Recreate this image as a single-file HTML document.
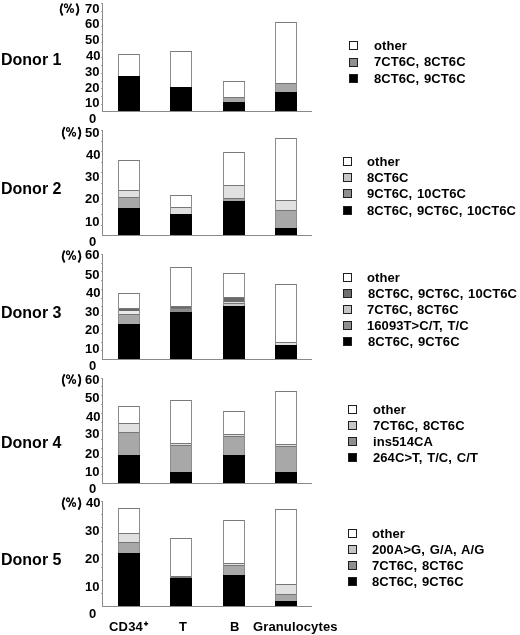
<!DOCTYPE html>
<html><head><meta charset="utf-8"><style>
html,body{margin:0;padding:0;background:#fff;}
body{width:520px;height:635px;position:relative;overflow:hidden;font-family:"Liberation Sans", sans-serif;font-weight:bold;color:#000;}
.t{position:absolute;white-space:nowrap;will-change:transform;}
.ax{position:absolute;background:#8a8a8a;}
.tk{position:absolute;width:1px;height:1px;background:#a8a8a8;}
.bar{position:absolute;box-sizing:border-box;border:1px solid #8c8c8c;border-top-color:#7a7a7a;background:#fff;}
.sc{position:absolute;box-sizing:border-box;border-top:1px solid #767676;}
.sb{position:absolute;background:#000;}
.lb{position:absolute;box-sizing:border-box;width:9px;height:9px;border:1px solid #1e1e1e;}
</style></head><body>
<div class="ax" style="left:102px;top:3px;width:1px;height:109px"></div>
<div class="ax" style="left:102px;top:111px;width:210px;height:1px"></div>
<div class="tk" style="left:101px;top:104px"></div>
<div class="tk" style="left:101px;top:96px"></div>
<div class="tk" style="left:101px;top:88px"></div>
<div class="tk" style="left:101px;top:81px"></div>
<div class="tk" style="left:101px;top:73px"></div>
<div class="tk" style="left:101px;top:65px"></div>
<div class="tk" style="left:101px;top:57px"></div>
<div class="tk" style="left:101px;top:50px"></div>
<div class="tk" style="left:101px;top:42px"></div>
<div class="tk" style="left:101px;top:34px"></div>
<div class="tk" style="left:101px;top:26px"></div>
<div class="tk" style="left:101px;top:19px"></div>
<div class="tk" style="left:101px;top:11px"></div>
<div class="tk" style="left:101px;top:3px"></div>
<div class="bar" style="left:118px;top:54px;width:22px;height:57px"></div>
<div class="sb" style="left:118px;top:76px;width:22px;height:35px"></div>
<div class="bar" style="left:170px;top:51px;width:22px;height:60px"></div>
<div class="sb" style="left:170px;top:87px;width:22px;height:24px"></div>
<div class="bar" style="left:223px;top:81px;width:22px;height:30px"></div>
<div class="sc" style="left:224px;top:97px;width:20px;height:5px;background:#a8a8a8"></div>
<div class="sb" style="left:223px;top:102px;width:22px;height:9px"></div>
<div class="bar" style="left:275px;top:22px;width:22px;height:89px"></div>
<div class="sc" style="left:276px;top:83px;width:20px;height:9px;background:#a8a8a8"></div>
<div class="sb" style="left:275px;top:92px;width:22px;height:19px"></div>
<div class="t" style="left:85px;top:2px;font-size:13px;line-height:13px;">70</div>
<div class="t" style="left:85px;top:17px;font-size:13px;line-height:13px;">60</div>
<div class="t" style="left:85px;top:33px;font-size:13px;line-height:13px;">50</div>
<div class="t" style="left:86px;top:49px;font-size:13px;line-height:13px;">40</div>
<div class="t" style="left:85px;top:65px;font-size:13px;line-height:13px;">30</div>
<div class="t" style="left:85px;top:81px;font-size:13px;line-height:13px;">20</div>
<div class="t" style="left:85px;top:96px;font-size:13px;line-height:13px;">10</div>
<div class="t" style="left:89px;top:112px;font-size:13px;line-height:13px;">0</div>
<div class="t" style="left:1px;top:52px;font-size:16px;line-height:16px;">Donor 1</div>
<div class="lb" style="left:349px;top:41px;background:#fff"></div>
<div class="t" style="left:374px;top:39px;font-size:13px;line-height:13px;word-spacing:1.1px;letter-spacing:0.08px;">other</div>
<div class="lb" style="left:349px;top:58px;background:#8f8f8f"></div>
<div class="t" style="left:374px;top:55px;font-size:13px;line-height:13px;word-spacing:1.1px;letter-spacing:0.08px;">7CT6C, 8CT6C</div>
<div class="lb" style="left:349px;top:74px;background:#000"></div>
<div class="t" style="left:374px;top:72px;font-size:13px;line-height:13px;word-spacing:1.1px;letter-spacing:0.08px;">8CT6C, 9CT6C</div>
<div class="ax" style="left:102px;top:130px;width:1px;height:106px"></div>
<div class="ax" style="left:102px;top:235px;width:210px;height:1px"></div>
<div class="tk" style="left:101px;top:225px"></div>
<div class="tk" style="left:101px;top:214px"></div>
<div class="tk" style="left:101px;top:204px"></div>
<div class="tk" style="left:101px;top:193px"></div>
<div class="tk" style="left:101px;top:183px"></div>
<div class="tk" style="left:101px;top:172px"></div>
<div class="tk" style="left:101px;top:162px"></div>
<div class="tk" style="left:101px;top:151px"></div>
<div class="tk" style="left:101px;top:141px"></div>
<div class="tk" style="left:101px;top:130px"></div>
<div class="bar" style="left:118px;top:160px;width:22px;height:75px"></div>
<div class="sc" style="left:119px;top:190px;width:20px;height:7px;background:#e0e0e0"></div>
<div class="sc" style="left:119px;top:197px;width:20px;height:11px;background:#a8a8a8"></div>
<div class="sb" style="left:118px;top:208px;width:22px;height:27px"></div>
<div class="bar" style="left:170px;top:195px;width:22px;height:40px"></div>
<div class="sc" style="left:171px;top:207px;width:20px;height:7px;background:#e0e0e0"></div>
<div class="sb" style="left:170px;top:214px;width:22px;height:21px"></div>
<div class="bar" style="left:223px;top:152px;width:22px;height:83px"></div>
<div class="sc" style="left:224px;top:185px;width:20px;height:13px;background:#e0e0e0"></div>
<div class="sc" style="left:224px;top:198px;width:20px;height:3px;background:#a8a8a8"></div>
<div class="sb" style="left:223px;top:201px;width:22px;height:34px"></div>
<div class="bar" style="left:275px;top:138px;width:22px;height:97px"></div>
<div class="sc" style="left:276px;top:200px;width:20px;height:10px;background:#e0e0e0"></div>
<div class="sc" style="left:276px;top:210px;width:20px;height:18px;background:#a8a8a8"></div>
<div class="sb" style="left:275px;top:228px;width:22px;height:7px"></div>
<div class="t" style="left:85px;top:126px;font-size:13px;line-height:13px;">50</div>
<div class="t" style="left:86px;top:148px;font-size:13px;line-height:13px;">40</div>
<div class="t" style="left:85px;top:170px;font-size:13px;line-height:13px;">30</div>
<div class="t" style="left:85px;top:192px;font-size:13px;line-height:13px;">20</div>
<div class="t" style="left:85px;top:215px;font-size:13px;line-height:13px;">10</div>
<div class="t" style="left:89px;top:235px;font-size:13px;line-height:13px;">0</div>
<div class="t" style="left:1px;top:181px;font-size:16px;line-height:16px;">Donor 2</div>
<div class="lb" style="left:343px;top:157px;background:#fff"></div>
<div class="t" style="left:367px;top:155px;font-size:13px;line-height:13px;word-spacing:1.1px;letter-spacing:0.08px;">other</div>
<div class="lb" style="left:343px;top:173px;background:#c6c6c6"></div>
<div class="t" style="left:367px;top:171px;font-size:13px;line-height:13px;word-spacing:1.1px;letter-spacing:0.08px;">8CT6C</div>
<div class="lb" style="left:343px;top:189px;background:#8f8f8f"></div>
<div class="t" style="left:367px;top:187px;font-size:13px;line-height:13px;word-spacing:1.1px;letter-spacing:0.08px;">9CT6C, 10CT6C</div>
<div class="lb" style="left:343px;top:206px;background:#000"></div>
<div class="t" style="left:367px;top:204px;font-size:13px;line-height:13px;word-spacing:1.1px;letter-spacing:0.08px;">8CT6C, 9CT6C, 10CT6C</div>
<div class="ax" style="left:102px;top:254px;width:1px;height:106px"></div>
<div class="ax" style="left:102px;top:359px;width:210px;height:1px"></div>
<div class="tk" style="left:101px;top:350px"></div>
<div class="tk" style="left:101px;top:342px"></div>
<div class="tk" style="left:101px;top:333px"></div>
<div class="tk" style="left:101px;top:324px"></div>
<div class="tk" style="left:101px;top:315px"></div>
<div class="tk" style="left:101px;top:306px"></div>
<div class="tk" style="left:101px;top:298px"></div>
<div class="tk" style="left:101px;top:289px"></div>
<div class="tk" style="left:101px;top:280px"></div>
<div class="tk" style="left:101px;top:271px"></div>
<div class="tk" style="left:101px;top:263px"></div>
<div class="tk" style="left:101px;top:254px"></div>
<div class="bar" style="left:118px;top:293px;width:22px;height:66px"></div>
<div class="sc" style="left:119px;top:308px;width:20px;height:3px;background:#6a6a6a"></div>
<div class="sc" style="left:119px;top:311px;width:20px;height:3px;background:#eaeaea;border-top:none"></div>
<div class="sc" style="left:119px;top:314px;width:20px;height:10px;background:#a8a8a8"></div>
<div class="sb" style="left:118px;top:324px;width:22px;height:35px"></div>
<div class="bar" style="left:170px;top:267px;width:22px;height:92px"></div>
<div class="sc" style="left:171px;top:306px;width:20px;height:2px;background:#6a6a6a"></div>
<div class="sc" style="left:171px;top:308px;width:20px;height:4px;background:#8c8c8c"></div>
<div class="sb" style="left:170px;top:312px;width:22px;height:47px"></div>
<div class="bar" style="left:223px;top:273px;width:22px;height:86px"></div>
<div class="sc" style="left:224px;top:297px;width:20px;height:5px;background:#6a6a6a"></div>
<div class="sc" style="left:224px;top:302px;width:20px;height:1px;background:#dddddd;border-top:none"></div>
<div class="sc" style="left:224px;top:303px;width:20px;height:3px;background:#c8c8c8"></div>
<div class="sb" style="left:223px;top:306px;width:22px;height:53px"></div>
<div class="bar" style="left:275px;top:284px;width:22px;height:75px"></div>
<div class="sc" style="left:276px;top:342px;width:20px;height:3px;background:#e0e0e0"></div>
<div class="sb" style="left:275px;top:345px;width:22px;height:14px"></div>
<div class="t" style="left:85px;top:248px;font-size:13px;line-height:13px;">60</div>
<div class="t" style="left:85px;top:268px;font-size:13px;line-height:13px;">50</div>
<div class="t" style="left:86px;top:286px;font-size:13px;line-height:13px;">40</div>
<div class="t" style="left:85px;top:305px;font-size:13px;line-height:13px;">30</div>
<div class="t" style="left:85px;top:323px;font-size:13px;line-height:13px;">20</div>
<div class="t" style="left:85px;top:342px;font-size:13px;line-height:13px;">10</div>
<div class="t" style="left:89px;top:359px;font-size:13px;line-height:13px;">0</div>
<div class="t" style="left:1px;top:305px;font-size:16px;line-height:16px;">Donor 3</div>
<div class="lb" style="left:343px;top:273px;background:#fff"></div>
<div class="t" style="left:367px;top:271px;font-size:13px;line-height:13px;word-spacing:1.1px;letter-spacing:0.08px;">other</div>
<div class="lb" style="left:343px;top:289px;background:#6e6e6e"></div>
<div class="t" style="left:368px;top:287px;font-size:13px;line-height:13px;word-spacing:1.1px;letter-spacing:0.08px;">8CT6C, 9CT6C, 10CT6C</div>
<div class="lb" style="left:343px;top:305px;background:#c6c6c6"></div>
<div class="t" style="left:367px;top:303px;font-size:13px;line-height:13px;word-spacing:1.1px;letter-spacing:0.08px;">7CT6C, 8CT6C</div>
<div class="lb" style="left:343px;top:321px;background:#8f8f8f"></div>
<div class="t" style="left:367px;top:319px;font-size:13px;line-height:13px;word-spacing:1.1px;letter-spacing:0.08px;">16093T&gt;C/T, T/C</div>
<div class="lb" style="left:343px;top:337px;background:#000"></div>
<div class="t" style="left:368px;top:335px;font-size:13px;line-height:13px;word-spacing:1.1px;letter-spacing:0.08px;">8CT6C, 9CT6C</div>
<div class="ax" style="left:102px;top:378px;width:1px;height:106px"></div>
<div class="ax" style="left:102px;top:483px;width:210px;height:1px"></div>
<div class="tk" style="left:101px;top:474px"></div>
<div class="tk" style="left:101px;top:466px"></div>
<div class="tk" style="left:101px;top:457px"></div>
<div class="tk" style="left:101px;top:448px"></div>
<div class="tk" style="left:101px;top:439px"></div>
<div class="tk" style="left:101px;top:430px"></div>
<div class="tk" style="left:101px;top:422px"></div>
<div class="tk" style="left:101px;top:413px"></div>
<div class="tk" style="left:101px;top:404px"></div>
<div class="tk" style="left:101px;top:395px"></div>
<div class="tk" style="left:101px;top:386px"></div>
<div class="tk" style="left:101px;top:378px"></div>
<div class="bar" style="left:118px;top:406px;width:22px;height:77px"></div>
<div class="sc" style="left:119px;top:423px;width:20px;height:9px;background:#e0e0e0"></div>
<div class="sc" style="left:119px;top:432px;width:20px;height:23px;background:#a8a8a8"></div>
<div class="sb" style="left:118px;top:455px;width:22px;height:28px"></div>
<div class="bar" style="left:170px;top:400px;width:22px;height:83px"></div>
<div class="sc" style="left:171px;top:443px;width:20px;height:2px;background:#e0e0e0"></div>
<div class="sc" style="left:171px;top:445px;width:20px;height:27px;background:#a8a8a8"></div>
<div class="sb" style="left:170px;top:472px;width:22px;height:11px"></div>
<div class="bar" style="left:223px;top:411px;width:22px;height:72px"></div>
<div class="sc" style="left:224px;top:434px;width:20px;height:2px;background:#e0e0e0"></div>
<div class="sc" style="left:224px;top:436px;width:20px;height:19px;background:#a8a8a8"></div>
<div class="sb" style="left:223px;top:455px;width:22px;height:28px"></div>
<div class="bar" style="left:275px;top:391px;width:22px;height:92px"></div>
<div class="sc" style="left:276px;top:444px;width:20px;height:2px;background:#e0e0e0"></div>
<div class="sc" style="left:276px;top:446px;width:20px;height:26px;background:#a8a8a8"></div>
<div class="sb" style="left:275px;top:472px;width:22px;height:11px"></div>
<div class="t" style="left:85px;top:373px;font-size:13px;line-height:13px;">60</div>
<div class="t" style="left:85px;top:391px;font-size:13px;line-height:13px;">50</div>
<div class="t" style="left:86px;top:410px;font-size:13px;line-height:13px;">40</div>
<div class="t" style="left:85px;top:427px;font-size:13px;line-height:13px;">30</div>
<div class="t" style="left:85px;top:447px;font-size:13px;line-height:13px;">20</div>
<div class="t" style="left:85px;top:465px;font-size:13px;line-height:13px;">10</div>
<div class="t" style="left:89px;top:482px;font-size:13px;line-height:13px;">0</div>
<div class="t" style="left:1px;top:435px;font-size:16px;line-height:16px;">Donor 4</div>
<div class="lb" style="left:348px;top:405px;background:#fff"></div>
<div class="t" style="left:373px;top:403px;font-size:13px;line-height:13px;word-spacing:1.1px;letter-spacing:0.08px;">other</div>
<div class="lb" style="left:348px;top:421px;background:#c6c6c6"></div>
<div class="t" style="left:373px;top:419px;font-size:13px;line-height:13px;word-spacing:1.1px;letter-spacing:0.08px;">7CT6C, 8CT6C</div>
<div class="lb" style="left:348px;top:437px;background:#8f8f8f"></div>
<div class="t" style="left:373px;top:435px;font-size:13px;line-height:13px;word-spacing:1.1px;letter-spacing:0.08px;">ins514CA</div>
<div class="lb" style="left:348px;top:453px;background:#000"></div>
<div class="t" style="left:373px;top:451px;font-size:13px;line-height:13px;word-spacing:1.1px;letter-spacing:0.08px;">264C&gt;T, T/C, C/T</div>
<div class="ax" style="left:102px;top:501px;width:1px;height:106px"></div>
<div class="ax" style="left:102px;top:606px;width:210px;height:1px"></div>
<div class="tk" style="left:101px;top:593px"></div>
<div class="tk" style="left:101px;top:580px"></div>
<div class="tk" style="left:101px;top:567px"></div>
<div class="tk" style="left:101px;top:554px"></div>
<div class="tk" style="left:101px;top:541px"></div>
<div class="tk" style="left:101px;top:527px"></div>
<div class="tk" style="left:101px;top:514px"></div>
<div class="tk" style="left:101px;top:501px"></div>
<div class="bar" style="left:118px;top:508px;width:22px;height:98px"></div>
<div class="sc" style="left:119px;top:533px;width:20px;height:9px;background:#e0e0e0"></div>
<div class="sc" style="left:119px;top:542px;width:20px;height:11px;background:#a8a8a8"></div>
<div class="sb" style="left:118px;top:553px;width:22px;height:53px"></div>
<div class="bar" style="left:170px;top:538px;width:22px;height:68px"></div>
<div class="sc" style="left:171px;top:576px;width:20px;height:1px;background:#e0e0e0"></div>
<div class="sc" style="left:171px;top:577px;width:20px;height:1px;background:#a8a8a8"></div>
<div class="sb" style="left:170px;top:578px;width:22px;height:28px"></div>
<div class="bar" style="left:223px;top:520px;width:22px;height:86px"></div>
<div class="sc" style="left:224px;top:563px;width:20px;height:2px;background:#e0e0e0"></div>
<div class="sc" style="left:224px;top:565px;width:20px;height:10px;background:#a8a8a8"></div>
<div class="sb" style="left:223px;top:575px;width:22px;height:31px"></div>
<div class="bar" style="left:275px;top:509px;width:22px;height:97px"></div>
<div class="sc" style="left:276px;top:584px;width:20px;height:10px;background:#e0e0e0"></div>
<div class="sc" style="left:276px;top:594px;width:20px;height:7px;background:#a8a8a8"></div>
<div class="sb" style="left:275px;top:601px;width:22px;height:5px"></div>
<div class="t" style="left:86px;top:496px;font-size:13px;line-height:13px;">40</div>
<div class="t" style="left:85px;top:524px;font-size:13px;line-height:13px;">30</div>
<div class="t" style="left:85px;top:552px;font-size:13px;line-height:13px;">20</div>
<div class="t" style="left:85px;top:580px;font-size:13px;line-height:13px;">10</div>
<div class="t" style="left:89px;top:607px;font-size:13px;line-height:13px;">0</div>
<div class="t" style="left:1px;top:552px;font-size:16px;line-height:16px;">Donor 5</div>
<div class="lb" style="left:348px;top:529px;background:#fff"></div>
<div class="t" style="left:372px;top:527px;font-size:13px;line-height:13px;word-spacing:1.1px;letter-spacing:0.08px;">other</div>
<div class="lb" style="left:348px;top:545px;background:#c6c6c6"></div>
<div class="t" style="left:372px;top:543px;font-size:13px;line-height:13px;word-spacing:1.1px;letter-spacing:0.08px;">200A&gt;G, G/A, A/G</div>
<div class="lb" style="left:348px;top:561px;background:#8f8f8f"></div>
<div class="t" style="left:372px;top:559px;font-size:13px;line-height:13px;word-spacing:1.1px;letter-spacing:0.08px;">7CT6C, 8CT6C</div>
<div class="lb" style="left:348px;top:577px;background:#000"></div>
<div class="t" style="left:372px;top:575px;font-size:13px;line-height:13px;word-spacing:1.1px;letter-spacing:0.08px;">8CT6C, 9CT6C</div>
<div class="t" style="left:109px;top:620px;font-size:13px;line-height:13px;letter-spacing:0.2px;">CD34</div>
<div class="t" style="left:179px;top:620px;font-size:13px;line-height:13px;">T</div>
<div class="t" style="left:230px;top:620px;font-size:13px;line-height:13px;">B</div>
<div class="t" style="left:253px;top:620px;font-size:13px;line-height:13px;letter-spacing:0.13px;">Granulocytes</div>
<svg style="position:absolute;left:0;top:0" width="160" height="635" viewBox="0 0 160 635"><defs><g id="pct" fill="none" stroke="#000"><path d="M2.8,0.2 Q-1.0,6.25 2.8,12.4" stroke-width="1.85"/><path d="M16.6,0.2 Q20.4,6.25 16.6,12.4" stroke-width="1.85"/><ellipse cx="6.2" cy="2.55" rx="1.5" ry="1.85" stroke-width="1.3"/><ellipse cx="12.2" cy="7.3" rx="1.5" ry="1.85" stroke-width="1.3"/><path d="M11.6,0.35 L6.95,9.55" stroke-width="1.5"/></g></defs><use href="#pct" transform="translate(59.8,3.2)"/><use href="#pct" transform="translate(61.85,126.9)"/><use href="#pct" transform="translate(61.85,250.2)"/><use href="#pct" transform="translate(61.85,374.1)"/><use href="#pct" transform="translate(61.85,497.3)"/><path d="M143.95,623.65 H148.15 M146.05,621.45 V625.85" stroke="#000" stroke-width="1.45" fill="none"/></svg>
</body></html>
